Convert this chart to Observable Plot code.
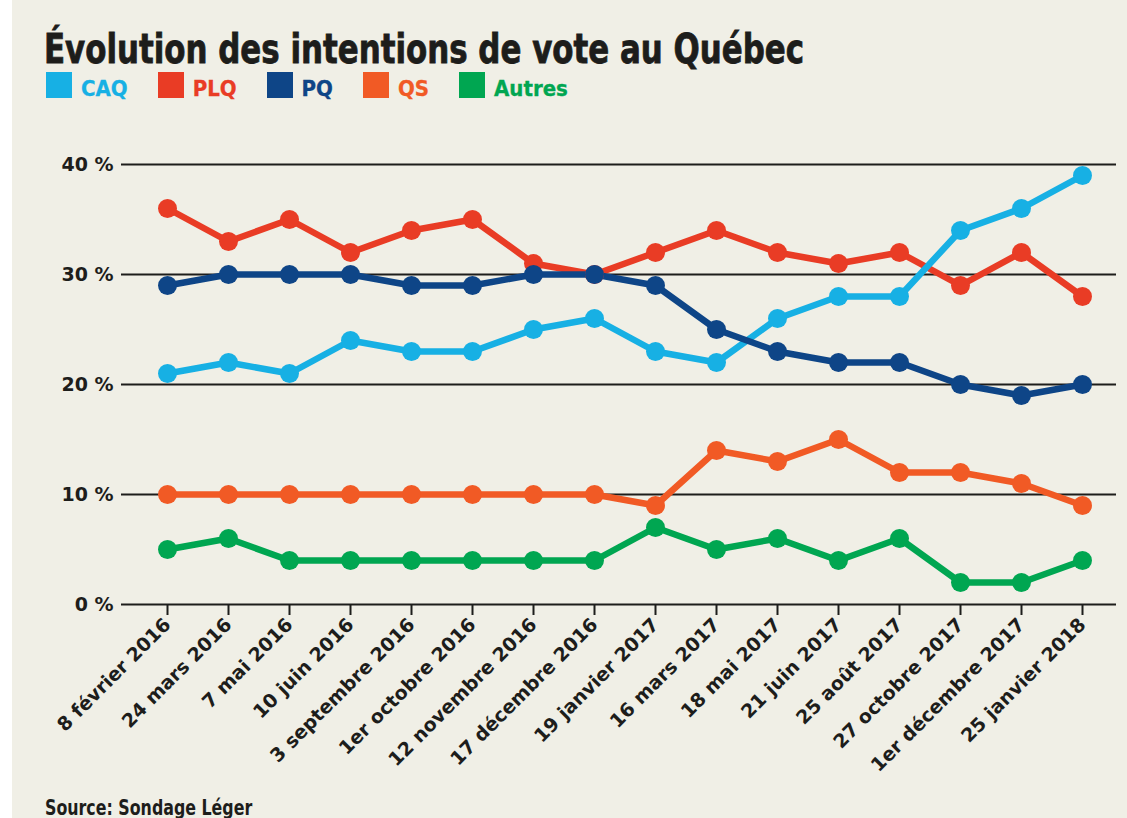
<!DOCTYPE html>
<html>
<head>
<meta charset="utf-8">
<script src="https://cdn.jsdelivr.net/npm/d3@7"></script>
<script src="https://cdn.jsdelivr.net/npm/@observablehq/plot@0.6"></script>
<style>
  html, body { margin: 0; padding: 0; }
  body { width: 1127px; height: 818px; position: relative; overflow: hidden; background: #f0efe6; }
  #strip { position: absolute; left: 0; top: 0; width: 12px; height: 818px; background: #ffffff; }
  .narrow { font-family: "DejaVu Sans Condensed", "DejaVu Sans", sans-serif; font-weight: bold; font-stretch: condensed; }
  #title { position: absolute; left: 44px; top: 29px; font-size: 41px; line-height: 41px; color: #1d1d1b; white-space: nowrap; transform: scaleX(0.837); transform-origin: 0 0; -webkit-text-stroke: 0.8px #1d1d1b; }
  #legend { position: absolute; left: 46px; top: 72px; display: flex; align-items: flex-start; }
  .item { display: flex; align-items: flex-start; margin-right: 30px; }
  .sw { width: 26px; height: 26px; margin-right: 9px; }
  .lab { font-size: 22px; line-height: 22px; margin-top: 6px; -webkit-text-stroke: 0.3px currentColor; }
  #chart { position: absolute; left: 0; top: 120px; }
  #source { position: absolute; left: 45px; top: 797px; font-size: 22px; line-height: 22px; color: #1d1d1b; white-space: nowrap; transform: scaleX(0.8); transform-origin: 0 0; }
</style>
</head>
<body>
<div id="strip"></div>
<div id="title" class="narrow">Évolution des intentions de vote au Québec</div>
<div id="legend" class="narrow"></div>
<div id="chart"></div>
<div id="source" class="narrow">Source: Sondage Léger</div>
<script>
// ---- data ----
const dates = ["8 février 2016", "24 mars 2016", "7 mai 2016", "10 juin 2016", "3 septembre 2016", "1er octobre 2016", "12 novembre 2016", "17 décembre 2016", "19 janvier 2017", "16 mars 2017", "18 mai 2017", "21 juin 2017", "25 août 2017", "27 octobre 2017", "1er décembre 2017", "25 janvier 2018"];
const caq    = [21, 22, 21, 24, 23, 23, 25, 26, 23, 22, 26, 28, 28, 34, 36, 39];
const plq    = [36, 33, 35, 32, 34, 35, 31, 30, 32, 34, 32, 31, 32, 29, 32, 28];
const pq     = [29, 30, 30, 30, 29, 29, 30, 30, 29, 25, 23, 22, 22, 20, 19, 20];
const qs     = [10, 10, 10, 10, 10, 10, 10, 10,  9, 14, 13, 15, 12, 12, 11,  9];
const autres = [ 5,  6,  4,  4,  4,  4,  4,  4,  7,  5,  6,  4,  6,  2,  2,  4];
const parties = ["CAQ", "PLQ", "PQ", "QS", "Autres"];
const colors  = ["#17b0e4", "#e93c25", "#0e4587", "#f15a25", "#00a651"];
const yTicks  = [0, 10, 20, 30, 40];

// ---- build ----
const seriesValues = {CAQ: caq, PLQ: plq, PQ: pq, QS: qs, Autres: autres};
const drawOrder = ["PLQ", "CAQ", "PQ", "QS", "Autres"];
const rows = drawOrder.flatMap(p => seriesValues[p].map((v, i) => ({party: p, date: dates[i], value: v})));

const legend = document.getElementById("legend");
parties.forEach((p, i) => {
  const it = document.createElement("div");
  it.className = "item";
  it.innerHTML = `<div class="sw" style="background:${colors[i]}"></div><div class="lab" style="color:${colors[i]}">${p}</div>`;
  legend.appendChild(it);
});

const axisFont = "'DejaVu Sans', sans-serif";
const chart = Plot.plot({
  width: 1127,
  height: 698,
  marginLeft: 121,
  marginRight: 11,
  marginTop: 44,
  marginBottom: 214,
  style: {background: "transparent", fontFamily: axisFont, fontWeight: "bold", fontSize: "19px", color: "#1d1d1b"},
  x: {type: "point", domain: dates, range: [163, 1085], padding: 0, label: null},
  y: {domain: [0, 40], label: null},
  color: {domain: parties, range: colors},
  marks: [
    Plot.ruleY(yTicks, {stroke: "#1d1d1b", strokeWidth: 2}),
    Plot.axisY({ticks: yTicks, tickFormat: d => d + " %", tickSize: 0, tickPadding: 8, fontSize: 19, label: null}),
    Plot.axisX({tickRotate: -45, tickSize: 11, tickPadding: 6, fontSize: 19, stroke: "#1d1d1b", strokeWidth: 2, label: null}),
    Plot.line(rows, {x: "date", y: "value", z: "party", stroke: "party", strokeWidth: 6.5, strokeLinejoin: "round"}),
    Plot.dot(rows, {x: "date", y: "value", fill: "party", r: 9.5})
  ]
});
document.getElementById("chart").appendChild(chart);
</script>
</body>
</html>
